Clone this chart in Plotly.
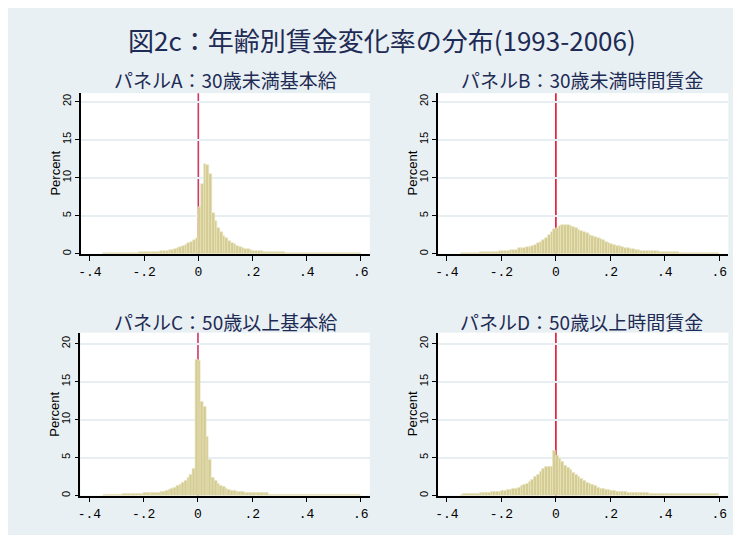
import numpy as np
import plotly.graph_objects as go

# ---------------- data ----------------
BIN_WIDTH = 0.01
bin_start = np.round(np.arange(-0.35, 0.595, BIN_WIDTH), 2)   # 95 bins

panel_a = ([0.08]*13 + [0.22]*8 + [0.4]*3 + [0.55]*2 +
           [0.65, 0.75, 0.9, 1.0, 1.2, 1.4, 1.6, 1.75, 2.0] +
           [6.1, 9.1, 11.8, 11.6, 10.4, 5.4, 4.3, 3.4, 2.8, 2.3, 2.0, 1.7, 1.45, 1.25, 1.05,
            0.9, 0.75, 0.65, 0.6, 0.55] +
           [0.35]*4 + [0.25]*8 + [0.06]*28)

panel_b = ([0.08]*7 + [0.25]*7 + [0.42]*4 + [0.55]*3 + [0.7]*3 + [0.9]*2 +
           [1.05, 1.2, 1.35, 1.6, 1.8, 2.1, 2.5, 2.8, 3.2] +
           [3.35, 3.6, 3.75, 3.8, 3.75, 3.65, 3.5, 3.35, 3.15, 3.0, 2.85, 2.7, 2.5, 2.35, 2.2,
            2.0, 1.9, 1.75, 1.6, 1.45, 1.3, 1.2, 1.05, 0.95, 0.85, 0.75, 0.7, 0.65, 0.6, 0.55, 0.5] +
           [0.3]*7 + [0.2]*7 + [0.07]*15)

panel_c = ([0.12]*7 + [0.3]*8 + [0.42]*6 + [0.5]*2 +
           [0.65, 0.8, 0.9, 1.05, 1.25, 1.45, 1.65, 2.0, 2.3, 2.75, 3.5, 17.9] +
           [17.8, 12.4, 11.75, 7.8, 4.7, 2.3, 1.9, 1.6, 1.3, 1.15, 0.9, 0.75, 0.65, 0.65] +
           [0.5]*3 + [0.42]*3 + [0.33]*6 + [0.14]*34)

panel_d = ([0.12] + [0.3]*6 + [0.4]*4 + [0.5]*4 + [0.65]*2 + [0.75]*2 + [0.9]*2 +
           [1.1, 1.3, 1.45, 1.6, 1.85, 2.15, 2.45, 2.8, 3.2, 3.6, 3.8, 3.8, 3.85, 5.9] +
           [5.3, 4.8, 4.4, 4.0, 3.65, 3.35, 3.0, 2.7, 2.45, 2.2, 1.95, 1.7, 1.55, 1.4, 1.25,
            1.1, 0.95, 0.85, 0.8, 0.75] +
           [0.65]*2 + [0.55]*4 + [0.4]*8 + [0.2]*26)

panel_titles = ["パネルA：30歳未満基本給", "パネルB：30歳未満時間賃金",
                "パネルC：50歳以上基本給", "パネルD：50歳以上時間賃金"]
main_title = "図2c：年齢別賃金変化率の分布(1993-2006)"
x_tickvals = [-0.4, -0.2, 0, 0.2, 0.4, 0.6]
x_ticktext = ["-.4", "-.2", "0", ".2", ".4", ".6"]
y_tickvals = [0, 5, 10, 15, 20]
y_label = "Percent"
ref_x = 0.0

# ---------------- styling ----------------
# The page body keeps its default 8px margin, which gives the white frame.
OFF = 8
W, H = 725, 527
BG = "#E9F0F3"
NAVY = "#1E2B55"
BAR_FILL = "#D4CC93"
BAR_LINE = "#E9E4BF"
JP_FONT = "Noto Sans CJK JP, Noto Sans, sans-serif"
MONO = "Liberation Mono, DejaVu Sans Mono, monospace"
SANS = "Liberation Sans, Arial, sans-serif"

def px_x(p):
    return (p - OFF) / W

def px_y(p):
    return 1 - (p - OFF) / H

# panel geometry in screen pixels: (left, right, top, bottom)
geoms = [(78.3, 368.3, 93.3, 254.3), (436.7, 728.3, 93.3, 254.3),
         (77.7, 368.3, 333.3, 496.5), (436.7, 728.3, 333.3, 496.5)]
yranges = [[0, 21.1], [0, 21.1], [0, 21.45], [0, 21.45]]
title_pos = [(223, 80), (582, 80), (223, 322), (581, 322)]
line_colors = ["#CF3A63", "#E0142E", "#CF3A63", "#E0142E"]
datas = [panel_a, panel_b, panel_c, panel_d]

fig = go.Figure()
layout = dict(
    width=W, height=H, margin=dict(l=0, r=0, t=0, b=0),
    paper_bgcolor=BG, plot_bgcolor="white", showlegend=False,
    bargap=0,
)
shapes = []
annotations = [dict(text=main_title, x=px_x(381), y=px_y(40), xref="paper", yref="paper",
                    showarrow=False, font=dict(family=JP_FONT, size=26, color=NAVY),
                    xanchor="center", yanchor="middle")]

for i, (vals, (l, r, t, b)) in enumerate(zip(datas, geoms)):
    n = i + 1
    xa = "x" if n == 1 else f"x{n}"
    ya = "y" if n == 1 else f"y{n}"
    fig.add_trace(go.Bar(x=bin_start, y=vals, width=BIN_WIDTH, offset=0,
                         marker=dict(color=BAR_FILL, line=dict(color=BAR_LINE, width=0.6)),
                         xaxis=xa, yaxis=ya, hoverinfo="skip"))
    layout[f"xaxis{'' if n == 1 else n}"] = dict(
        domain=[px_x(l), px_x(r)], anchor=ya, range=[-0.433, 0.633],
        tickvals=x_tickvals, ticktext=x_ticktext, ticks="outside", ticklen=5,
        tickwidth=1.2, tickcolor="black", showline=True, linecolor="black", linewidth=1.5,
        showgrid=False, zeroline=False,
        tickfont=dict(family=MONO, size=13, color="black"))
    layout[f"yaxis{'' if n == 1 else n}"] = dict(
        domain=[px_y(b), px_y(t)], anchor=xa, range=yranges[i],
        tickvals=y_tickvals, ticks="outside", ticklen=4, tickwidth=1.2, tickcolor="black",
        tickangle=-90, showline=True, linecolor="black", linewidth=1.5,
        showgrid=True, gridcolor="#E6EEF1", gridwidth=1.5, zeroline=False,
        tickfont=dict(family=SANS, size=11, color="black"))
    shapes.append(dict(type="line", xref=xa, yref=f"{ya} domain", x0=ref_x, x1=ref_x,
                       y0=0, y1=1, line=dict(color=line_colors[i], width=1.6), layer="below"))
    tx, ty = title_pos[i]
    annotations.append(dict(text=panel_titles[i], x=px_x(tx), y=px_y(ty), xref="paper",
                            yref="paper", showarrow=False,
                            font=dict(family=JP_FONT, size=19, color=NAVY),
                            xanchor="center", yanchor="middle"))
    annotations.append(dict(text=y_label, x=px_x(l - 26), y=px_y((t + b) / 2), xref="paper",
                            yref="paper", showarrow=False, textangle=-90,
                            font=dict(family=SANS, size=13, color="black"),
                            xanchor="center", yanchor="middle"))

layout["shapes"] = shapes
layout["annotations"] = annotations
fig.update_layout(**layout)
fig.write_html("out.html")
